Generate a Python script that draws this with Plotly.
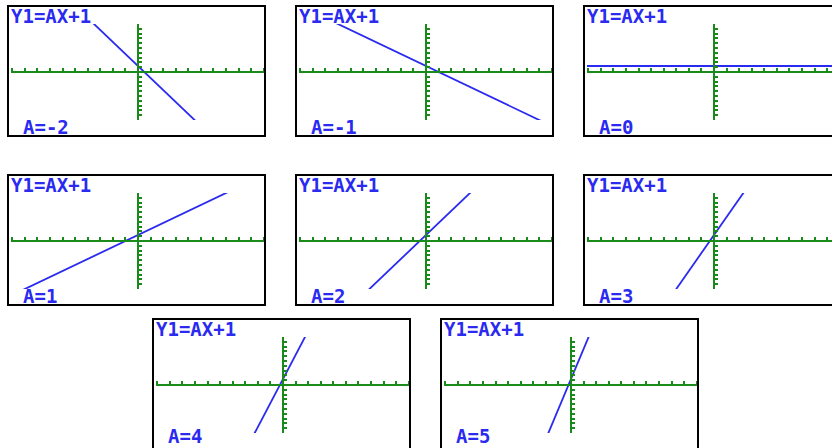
import plotly.graph_objects as go

# ---- data ----
EQUATION = "Y1=AX+1"
A_VALUES = [-2, -1, 0, 1, 2, 3, 4, 5]
A_LABELS = [f"A={a}" for a in A_VALUES]
INTERCEPT = 1
X_RANGE = (-10.1, 10.1)
Y_RANGE = (-8.0, 8.0)
X_TICK = 1
Y_TICK = 0.8

# ---- layout geometry (pixels) ----
W, H = 832, 448
PANEL_LEFT = [8, 296, 584, 8, 296, 584, 153, 441]
PANEL_TOP = [6, 6, 6, 175, 175, 175, 319, 319]
BOX_W, BOX_H = 257, 130
GX0, GX1 = 3, 257
GY0, GY1 = 18, 114

BLUE = "#2a2af0"
GREEN = "#1a8a1a"
FONT = dict(family="DejaVu Sans Mono", size=19, color=BLUE, weight="bold")

fig = go.Figure()
layout = {}
shapes = []
annotations = []

for i, a in enumerate(A_VALUES):
    n = i + 1
    L, T = PANEL_LEFT[i], PANEL_TOP[i]
    gx0, gx1 = L + GX0, L + GX1
    gy0, gy1 = T + GY0, T + GY1
    upx = (X_RANGE[1] - X_RANGE[0]) / (gx1 - gx0)
    vis_x1 = min(gx1, W)
    xr = [X_RANGE[0], X_RANGE[0] + (vis_x1 - gx0) * upx]
    dom_x = [gx0 / W, vis_x1 / W]
    dom_y = [1 - gy1 / H, 1 - gy0 / H]
    zero_px_x = gx0 + (0 - X_RANGE[0]) / upx
    zero_px_y = gy0 + (Y_RANGE[1] - 0) / (Y_RANGE[1] - Y_RANGE[0]) * (gy1 - gy0)

    xa = "x" if n == 1 else f"x{n}"
    ya = "y" if n == 1 else f"y{n}"
    fig.add_trace(go.Scatter(
        x=xr, y=[a * x + INTERCEPT for x in xr], mode="lines",
        line=dict(color=BLUE, width=1.8), xaxis=xa, yaxis=ya,
        showlegend=False, hoverinfo="skip"))

    common = dict(showline=True, linecolor=GREEN, linewidth=2,
                  ticks="inside", tickcolor=GREEN, ticklen=3, tickwidth=2,
                  showgrid=False, zeroline=False, showticklabels=False,
                  fixedrange=True, anchor="free", tick0=0)
    layout["xaxis" if n == 1 else f"xaxis{n}"] = dict(
        domain=dom_x, range=xr, dtick=X_TICK,
        position=1 - zero_px_y / H, **common)
    layout["yaxis" if n == 1 else f"yaxis{n}"] = dict(
        domain=dom_y, range=list(Y_RANGE), dtick=Y_TICK,
        position=zero_px_x / W, **common)

    shapes.append(dict(type="rect", xref="paper", yref="paper",
                       x0=L / W, x1=(L + BOX_W) / W,
                       y0=1 - (T + BOX_H) / H, y1=1 - T / H,
                       line=dict(color="black", width=2)))
    annotations.append(dict(text=EQUATION, xref="paper", yref="paper",
                            x=(L + 1) / W, y=1 - (T + 10) / H,
                            xanchor="left", yanchor="middle",
                            showarrow=False, font=FONT))
    label_y = min(T + 121, H - 12)
    annotations.append(dict(text=A_LABELS[i], xref="paper", yref="paper",
                            x=(L + 13) / W, y=1 - label_y / H,
                            xanchor="left", yanchor="middle",
                            showarrow=False, font=FONT))

fig.update_layout(
    width=W, height=H, margin=dict(l=0, r=0, t=0, b=0),
    paper_bgcolor="white", plot_bgcolor="white",
    shapes=shapes, annotations=annotations, **layout)

fig.write_html("out.html", config={"displayModeBar": False},
               post_script="document.body.style.margin='0';"
                           "document.body.style.overflow='hidden';")
